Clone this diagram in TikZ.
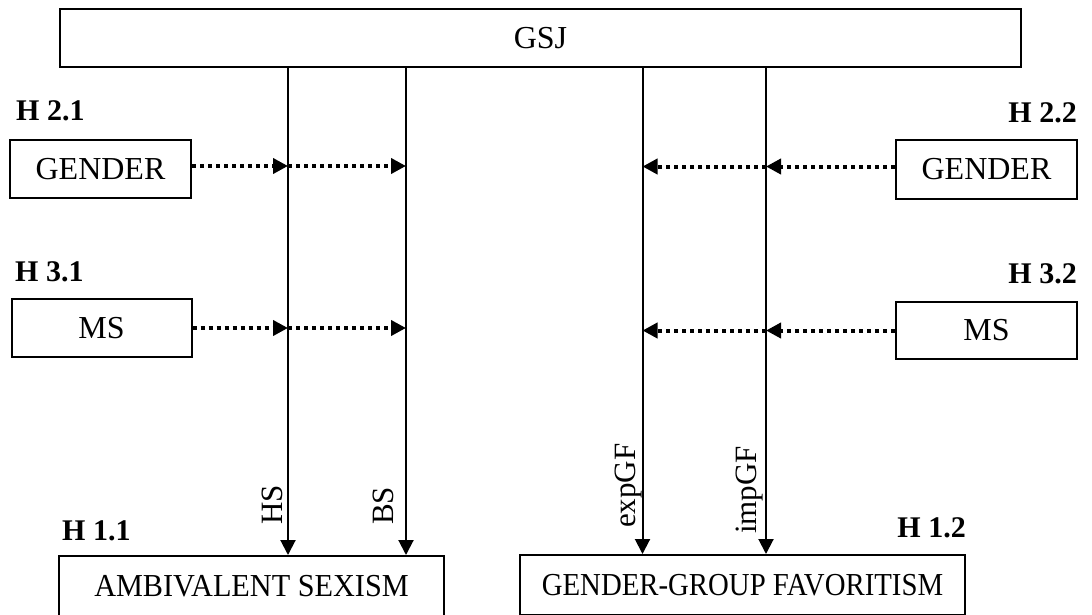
\documentclass[tikz,border=0pt]{standalone}
\usepackage{fontspec}
\setmainfont{Liberation Serif}
\usetikzlibrary{arrows.meta}

\newcommand\squeeze[2]{\scalebox{#1}[1]{#2}}
\tikzset{
  box/.style={draw, line width=2pt, inner sep=0pt, font=\fontsize{32}{36}\selectfont},
  hyp/.style={inner sep=0pt, font=\fontsize{30}{34}\selectfont\bfseries},
  lbl/.style={inner sep=0pt, rotate=90, anchor=base west, font=\fontsize{31}{36}\selectfont},
  path/.style={line width=2pt, -{Triangle[length=15pt,width=15pt]}},
  dots/.style={line width=4pt, dash pattern=on 4pt off 4pt, -{Triangle[length=15pt,width=15pt]}}
}

\begin{document}
\begin{tikzpicture}[x=1pt,y=-1pt]
    \useasboundingbox (0,0) rectangle (1092,614);
            \node[box, minimum width=961pt, minimum height=58pt] (gsj) at (540.5,38) {GSJ};
            \node[box, minimum width=181pt, minimum height=58pt] (gl) at (100.5,169) {GENDER};
            \node[box, minimum width=180pt, minimum height=58pt] (ml) at (101.5,328) {MS};
            \node[box, minimum width=181pt, minimum height=59pt] (gr) at (986.5,169.5) {GENDER};
            \node[box, minimum width=181pt, minimum height=57pt] (mr) at (986.5,330.5) {MS};
            \node[box, minimum width=385pt, minimum height=60pt] (as) at (251.5,586) {\squeeze{0.945}{AMBIVALENT SEXISM}};
            \node[box, minimum width=445pt, minimum height=60pt] (gf) at (742.5,585) {\squeeze{0.9}{GENDER-GROUP FAVORITISM}};
            \node[hyp, anchor=base west] (h21) at (16,120) {H 2.1};
            \node[hyp, anchor=base west] (h31) at (15,281) {H 3.1};
            \node[hyp, anchor=base west] (h11) at (62,540) {H 1.1};
            \node[hyp, anchor=base east] (h22) at (1077,122) {H 2.2};
            \node[hyp, anchor=base east] (h32) at (1077,283) {H 3.2};
            \node[hyp, anchor=base east] (h12) at (966,537) {H 1.2};
            \coordinate (hs) at (288,0);
            \coordinate (bs) at (406,0);
            \coordinate (ex) at (642.5,0);
            \coordinate (im) at (766,0);
            \draw[path] (gsj.south -| hs) -- (as.north -| hs);
            \draw[path] (gsj.south -| bs) -- (as.north -| bs);
            \draw[path] (gsj.south -| ex) -- (gf.north -| ex);
            \draw[path] (gsj.south -| im) -- (gf.north -| im);
            \node[lbl] (lhs) at (282.5,525) {HS};
            \node[lbl] (lbs) at (393,525) {BS};
            \node[lbl] (lex) at (635,528) {expGF};
            \node[lbl] (lim) at (756,534) {impGF};
            \draw[dots] ([yshift=3pt]gl.east) -- ([yshift=3pt]gl.east -| hs);
            \draw[dots] ([yshift=3pt]gl.east -| hs) -- ([yshift=3pt]gl.east -| bs);
            \draw[dots] (ml.east) -- (ml.east -| hs);
            \draw[dots] (ml.east -| hs) -- (ml.east -| bs);
            \draw[dots] ([yshift=3pt]gr.west) -- ([yshift=3pt]gr.west -| im);
            \draw[dots] ([yshift=3pt]gr.west -| im) -- ([yshift=3pt]gr.west -| ex);
            \draw[dots] (mr.west) -- (mr.west -| im);
            \draw[dots] (mr.west -| im) -- (mr.west -| ex);
\end{tikzpicture}
\end{document}
